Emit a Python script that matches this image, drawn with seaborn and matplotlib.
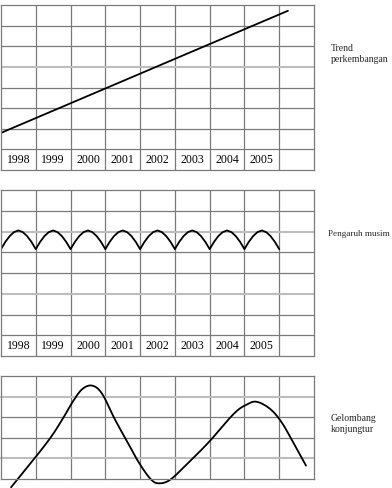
import numpy as np
import pandas as pd
import matplotlib
matplotlib.use("Agg")
import matplotlib.pyplot as plt
import seaborn as sns

# ---------------- data ----------------
years = ["1998", "1999", "2000", "2001", "2002", "2003", "2004", "2005"]

trend_x = [0.0, 8.25]
trend_y = [1.8, 7.72]

season_y = [5.15, 5.5, 5.78, 5.97, 6.05, 5.97, 5.78, 5.5,
            5.15, 5.5, 5.78, 5.97, 6.05, 5.97, 5.78, 5.5,
            5.15, 5.5, 5.78, 5.97, 6.05, 5.97, 5.78, 5.5,
            5.15, 5.5, 5.78, 5.97, 6.05, 5.97, 5.78, 5.5,
            5.15, 5.5, 5.78, 5.97, 6.05, 5.97, 5.78, 5.5,
            5.15, 5.5, 5.78, 5.97, 6.05, 5.97, 5.78, 5.5,
            5.15, 5.5, 5.78, 5.97, 6.05, 5.97, 5.78, 5.5,
            5.15, 5.5, 5.78, 5.97, 6.05, 5.97, 5.78, 5.5,
            5.15]
season_x = np.linspace(0, 8, len(season_y))

cycle_x = [0.29, 0.95, 1.43, 1.77, 2.05, 2.34, 2.63, 2.91, 3.27, 3.65, 3.96,
           4.30, 4.54, 4.87, 5.35, 5.97, 6.69, 7.05, 7.35, 7.74, 8.07, 8.4, 8.77]
cycle_y = [-0.40, 0.97, 2.02, 2.91, 3.72, 4.37, 4.53, 4.13, 2.91, 1.75, 0.81,
           0.0, -0.21, -0.03, 0.73, 1.78, 3.16, 3.6, 3.75, 3.4, 2.75, 1.78, 0.65]

labels = ["Trend\nperkembangan", "Pengaruh musim", "Gelombang\nkonjungtur"]


def catmull_rom(xs, ys, n=20):
    pts = np.column_stack([xs, ys]).astype(float)
    pts = np.vstack([2 * pts[0] - pts[1], pts, 2 * pts[-1] - pts[-2]])
    out = []
    for i in range(1, len(pts) - 2):
        p0, p1, p2, p3 = pts[i - 1], pts[i], pts[i + 1], pts[i + 2]
        t = np.linspace(0, 1, n, endpoint=False)[:, None]
        seg = 0.5 * ((2 * p1) + (-p0 + p2) * t + (2 * p0 - 5 * p1 + 4 * p2 - p3) * t ** 2
                     + (-p0 + 3 * p1 - 3 * p2 + p3) * t ** 3)
        out.append(seg)
    out.append(pts[-2][None, :])
    out = np.vstack(out)
    return out[:, 0], out[:, 1]


sns.set_style("white")
plt.rcParams["font.family"] = ["Liberation Serif", "DejaVu Serif"]

W, H = 392, 489
fig = plt.figure(figsize=(W / 100, H / 100), dpi=100)


def make_ax(top, bottom, nrows, light_rows):
    ax = fig.add_axes([1 / W, (H - bottom) / H, 313 / W, (bottom - top) / H])
    ax.set_xlim(0, 9)
    ax.set_ylim(0, nrows)
    for i in range(1, 9):
        ax.axvline(i, color="#7a7a7a", lw=0.9, zorder=1)
    for j in range(1, nrows):
        if j in light_rows:
            ax.axhline(j, color="#bdbdbd", lw=1.5, zorder=1)
        else:
            ax.axhline(j, color="#7a7a7a", lw=0.9, zorder=1)
    ax.set_xticks([])
    ax.set_yticks([])
    for s in ax.spines.values():
        s.set_color("#7a7a7a")
        s.set_linewidth(0.9)
    ax.patch.set_alpha(0)
    return ax


def year_row(ax):
    for i, y in enumerate(years):
        ax.text(i + 0.5, 0.55, y, ha="center", va="center", fontsize=8.5, color="black")


# Panel 1: trend
ax1 = make_ax(6, 171, 8, [5])
sns.lineplot(x=trend_x, y=trend_y, ax=ax1, color="black", lw=1.3, estimator=None, sort=False)
year_row(ax1)

# Panel 2: seasonal
ax2 = make_ax(191, 357, 8, [3, 6])
sns.lineplot(x=season_x, y=season_y, ax=ax2, color="black", lw=1.3, estimator=None, sort=False)
year_row(ax2)

# Panel 3: business cycle
ax3 = make_ax(377, 480, 5, [1, 4])
cx, cy = catmull_rom(cycle_x, cycle_y)
df3 = pd.DataFrame({"x": cx, "y": cy})
sns.lineplot(data=df3, x="x", y="y", ax=ax3, color="black", lw=1.3, estimator=None, sort=False)
for ln in ax3.get_lines():
    ln.set_clip_on(False)

for ax in (ax1, ax2, ax3):
    ax.set_xlabel("")
    ax.set_ylabel("")

fig.text(331 / W, 1 - 54 / H, labels[0], ha="left", va="center", fontsize=7, linespacing=1.15)
fig.text(328 / W, 1 - 234 / H, labels[1], ha="left", va="center", fontsize=6.6)
fig.text(331 / W, 1 - 424 / H, labels[2], ha="left", va="center", fontsize=7, linespacing=1.15)

fig.savefig("out.png", dpi=100, facecolor="white")
